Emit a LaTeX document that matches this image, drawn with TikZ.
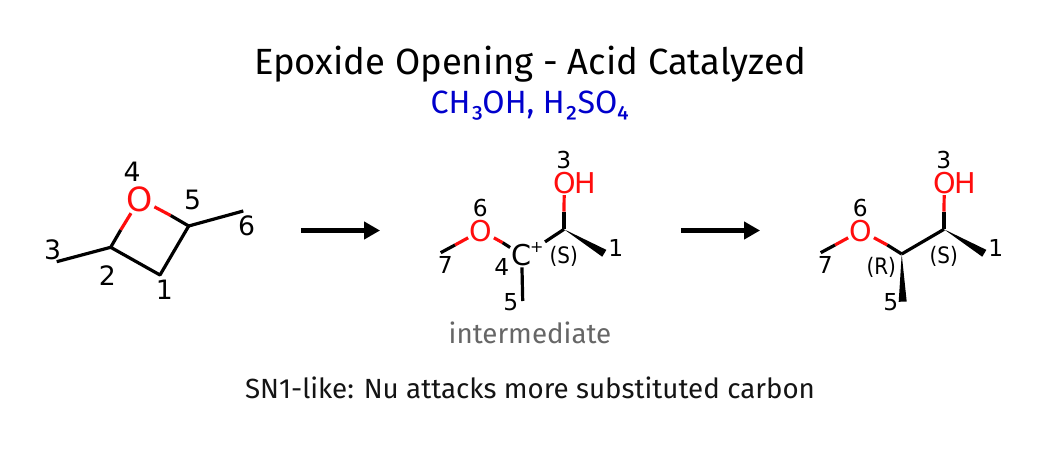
\documentclass[tikz,border=0pt]{standalone}
\usepackage{fontspec}
\setmainfont{Fira Sans}
\newfontfamily\atomfont{DejaVu Sans}
\usetikzlibrary{calc,arrows.meta}
\definecolor{reagentblue}{RGB}{0,0,204}
\definecolor{oxyred}{RGB}{255,13,13}
\definecolor{notegray}{RGB}{102,102,102}
\tikzset{
  txt/.style={inner sep=0pt,font=\fontsize{#1}{#1}\selectfont},
  bond/.style={line width=2.4pt},
  redbond/.style={bond,oxyred},
  atom/.style={inner sep=1pt,font=\atomfont\fontsize{#1}{#1}\selectfont},
  num/.style={inner sep=0pt,font=\atomfont\fontsize{#1}{#1}\selectfont},
  rxn/.style={line width=3.75pt,-{Triangle[length=12pt,width=12.75pt]}}
}
\begin{document}
\begin{tikzpicture}[x=0.75pt,y=-0.75pt]
  \useasboundingbox (0,0) rectangle (1060,460);
  % Headings
  \node[txt=27.35] (title) at (530,64) {Epoxide Opening - Acid Catalyzed};
  \node[txt=24.15,text=reagentblue] (reagents) at (530,106) {CH₃OH, H₂SO₄};
  \node[txt=20.8,text=notegray] (note) at (530,333) {intermediate};
  \node[txt=20.8,text=black!92] (caption) at (530,388) {SN1-like: Nu attacks more substituted carbon};

  % Ring on the left
  \begin{scope}
    \node[atom=25,text=oxyred] (o4) at (139.7,199) {O};
    \coordinate (c2) at (110.7,247.3);
    \coordinate (c1) at (160,275);
    \coordinate (c5) at (188.7,226);
    \coordinate (c3) at (56.7,261.7);
    \coordinate (c6) at (243.3,211);
    \coordinate (m2) at (120.7,230);
    \coordinate (m5) at (170.7,215.5);
    \draw[redbond] (o4) -- (m2);
    \draw[redbond] (o4) -- (m5);
    \draw[bond,line join=round] (m2) -- (c2) -- (c1) -- (c5) -- (m5);
    \draw[bond] (c3) -- (c2);
    \draw[bond] (c5) -- (c6);
    \foreach \t/\x/\y in {4/132/171.7, 5/192.7/200, 6/246.7/226, 3/52.7/249.3, 2/107.3/276, 1/164.3/290} {
      \node[num=20] (a\t) at (\x,\y) {\t};
    }
  \end{scope}

  \node[inner sep=0pt] (arrowa) at (300,230.5) {};
  \node[inner sep=0pt] (arrowb) at (381,230.5) {};
  \draw[rxn] (arrowa) -- (arrowb);

  % Intermediate
  \begin{scope}
    \node[atom=21.5,text=oxyred] (o6) at (481,230.7) {O};
    \node[atom=21.5,text=oxyred] (o3) at (564.3,182.7) {O};
    \node[atom=21.5,text=oxyred,anchor=base west,inner sep=0pt,xshift=-2pt] (h3) at (o3.base east) {H};
    \node[atom=21.5] (c4) at (521.7,255) {C};
    \node[atom=12] (plus) at (536.7,247.3) {+};
    \coordinate (ca) at (564,229.3);
    \coordinate (c1) at (604.3,253.3);
    \coordinate (c5) at (522.7,301);
    \coordinate (c7) at (440.7,252.7);
    \coordinate (m7) at (455,245);
    \coordinate (m4) at (502.7,242.7);
    \coordinate (m3) at (564,211.7);
    \draw[redbond] (o6) -- (m7);
    \draw[bond] (m7) -- (c7);
    \draw[redbond] (o6) -- (m4);
    \draw[bond] (m4) -- (c4);
    \draw[redbond] (o3) -- (m3);
    \draw[bond] (m3) -- (ca);
    \draw[bond] (plus) -- (ca);
    \draw[bond] (c4) -- (c5);
    \fill (ca) -- ($(c1)!3pt!90:(ca)$) -- ($(c1)!3pt!-90:(ca)$) -- cycle;
    \node[num=17] (stereoa) at (563.7,256.7) {\scalebox{0.88}[1]{(S)}};
    \foreach \t/\x/\y in {3/563.7/160, 6/480.3/208, 7/445.3/265, 4/501.7/267.3, 5/510.7/302.3, 1/615.7/248.3} {
      \node[num=17.5] (b\t) at (\x,\y) {\t};
    }
  \end{scope}

  \node[inner sep=0pt] (arrowc) at (680,230.5) {};
  \node[inner sep=0pt] (arrowd) at (761,230.5) {};
  \draw[rxn] (arrowc) -- (arrowd);

  % Product
  \begin{scope}
    \node[atom=21.5,text=oxyred] (o6p) at (861,230.7) {O};
    \node[atom=21.5,text=oxyred] (o3p) at (944.3,182.7) {O};
    \node[atom=21.5,text=oxyred,anchor=base west,inner sep=0pt,xshift=-2pt] (h3p) at (o3p.base east) {H};
    \coordinate (cb) at (901.7,254);
    \coordinate (ca) at (944,229.3);
    \coordinate (c1) at (984.3,253.3);
    \coordinate (c5) at (902.7,301.7);
    \coordinate (c7) at (820.7,252.7);
    \coordinate (m7) at (835,245);
    \coordinate (m4) at (887.3,245);
    \coordinate (m3) at (944,211.7);
    \draw[redbond] (o6p) -- (m7);
    \draw[bond] (m7) -- (c7);
    \draw[redbond] (o6p) -- (m4);
    \draw[bond] (m4) -- (cb);
    \draw[redbond] (o3p) -- (m3);
    \draw[bond] (m3) -- (ca);
    \draw[bond] (cb) -- (ca);
    \fill (ca) -- ($(c1)!3pt!90:(ca)$) -- ($(c1)!3pt!-90:(ca)$) -- cycle;
    \fill (cb) -- ($(c5)!3pt!90:(cb)$) -- ($(c5)!3pt!-90:(cb)$) -- cycle;
    \node[num=17] (stereob) at (943.7,256.7) {\scalebox{0.88}[1]{(S)}};
    \node[num=17] (stereoc) at (881.3,267.7) {\scalebox{0.88}[1]{(R)}};
    \foreach \t/\x/\y in {3/943.7/160, 6/860.3/208, 7/825.3/265, 5/890.7/302.3, 1/995.7/248.3} {
      \node[num=17.5] (p\t) at (\x,\y) {\t};
    }
  \end{scope}
\end{tikzpicture}
\end{document}
